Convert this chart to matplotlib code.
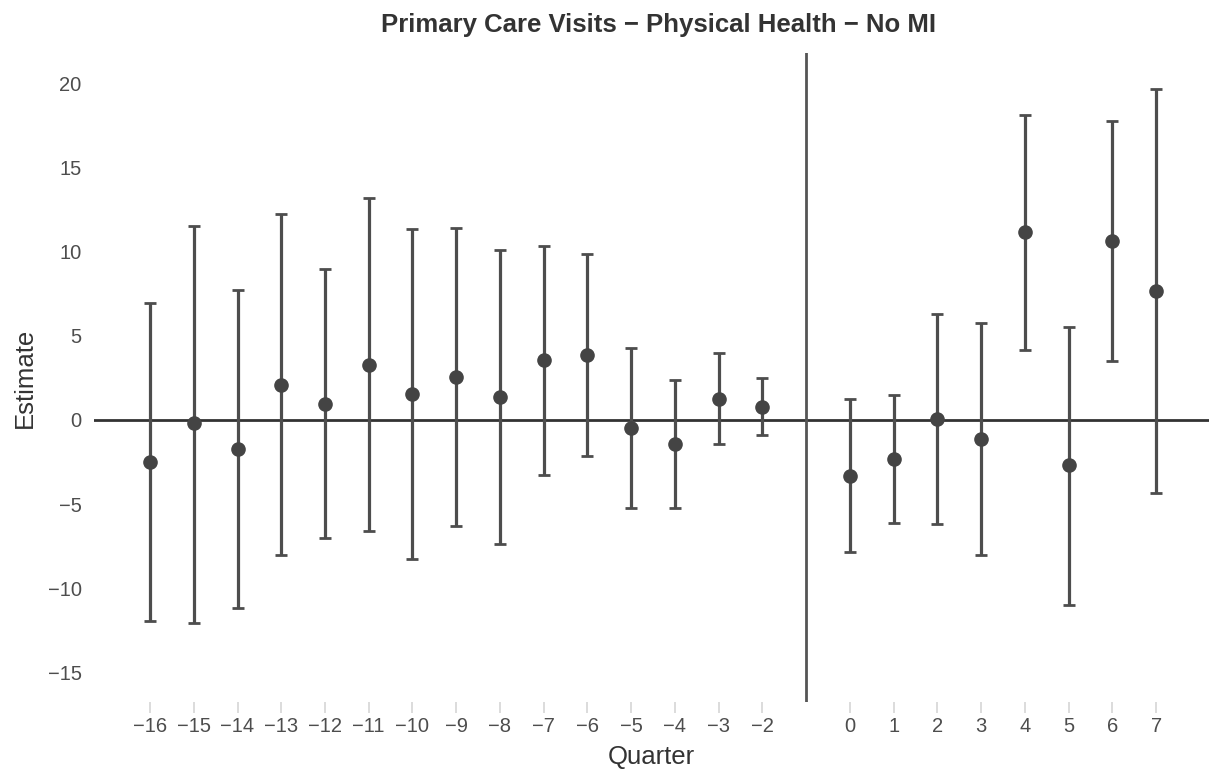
import matplotlib
matplotlib.use("Agg")
import matplotlib.pyplot as plt
import numpy as np

plt.rcParams["font.family"] = ["Liberation Sans", "DejaVu Sans"]

# event-study estimates by quarter (reference quarter -1 omitted)
quarter = [-16, -15, -14, -13, -12, -11, -10, -9, -8, -7, -6, -5, -4, -3, -2,
           0, 1, 2, 3, 4, 5, 6, 7]
estimate = [-2.48, -0.19, -1.75, 2.09, 0.97, 3.28, 1.53, 2.55, 1.39, 3.55, 3.86,
            -0.46, -1.41, 1.26, 0.78,
            -3.30, -2.31, 0.05, -1.12, 11.13, -2.70, 10.62, 7.65]
ci_low = [-11.93, -12.03, -11.18, -8.02, -7.00, -6.59, -8.24, -6.27, -7.36, -3.28, -2.16,
          -5.22, -5.20, -1.41, -0.92,
          -7.82, -6.12, -6.20, -8.00, 4.16, -10.96, 3.48, -4.35]
ci_high = [6.97, 11.54, 7.73, 12.20, 8.94, 13.17, 11.35, 11.37, 10.11, 10.35, 9.87,
           4.30, 2.38, 3.96, 2.50,
           1.24, 1.51, 6.29, 5.76, 18.10, 5.54, 17.74, 19.64]
y_ticks = [-15, -10, -5, 0, 5, 10, 15, 20]

q = np.array(quarter)
est = np.array(estimate)
err = np.vstack([est - np.array(ci_low), np.array(ci_high) - est])

fig = plt.figure(figsize=(12.09, 7.72), dpi=100)
ax = fig.add_axes([0.0778, 0.0907, 0.9222, 0.8406])

ax.axhline(0, color="#333333", lw=2.0, zorder=1)
ax.axvline(-1, color="#555555", lw=2.0, zorder=1)
ax.errorbar(q, est, yerr=err, fmt="none", ecolor="#4d4d4d", elinewidth=2.3,
            capsize=4.5, capthick=2.0, zorder=2)
ax.plot(q, est, "o", color="#444444", markersize=9.5, zorder=3)

ax.set_xlim(-17.28, 8.21)
ax.set_ylim(-16.74, 21.78)
ax.set_xticks(quarter)
ax.set_xticklabels([str(v).replace("-", "\u2212") for v in quarter])
ax.set_yticks(y_ticks)
ax.set_yticklabels([str(v).replace("-", "\u2212") for v in y_ticks])

for s in ax.spines.values():
    s.set_visible(False)
ax.tick_params(axis="x", length=8, width=1.3, color="#d9d9d9", labelsize=14.5,
               labelcolor="#4d4d4d", pad=3)
ax.tick_params(axis="y", length=0, labelsize=14.5, labelcolor="#4d4d4d", pad=9)

ax.set_xlabel("Quarter", fontsize=18.5, color="#333333", labelpad=6)
ax.set_ylabel("Estimate", fontsize=18.5, color="#333333", labelpad=8)
fig.text(0.545, 0.9585, "Primary Care Visits \u2212 Physical Health \u2212 No MI",
         ha="center", va="baseline", fontsize=18.5, fontweight="bold", color="#333333")

fig.savefig("out.png", dpi=100)
